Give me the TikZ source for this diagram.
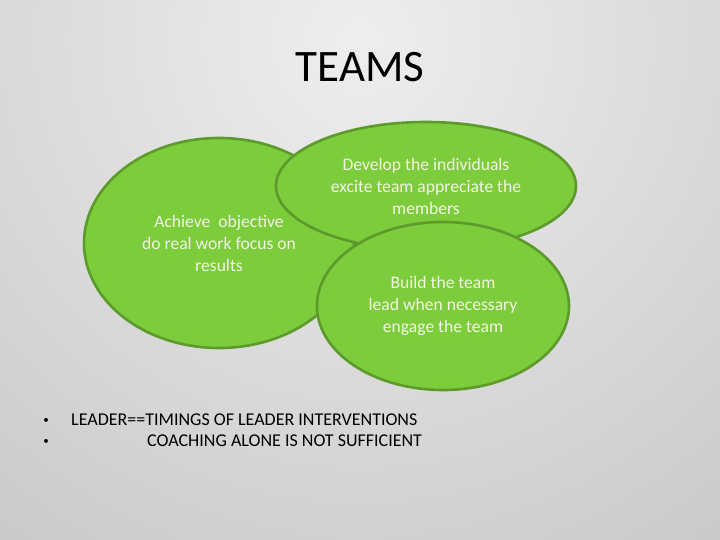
\documentclass[tikz,border=0pt]{standalone}
\usepackage{fontspec}
\setmainfont{Carlito}
\usetikzlibrary{shapes.geometric}
\definecolor{bgin}{HTML}{EEEEEE}
\definecolor{bgout}{HTML}{B0B0B0}
\definecolor{leaf}{HTML}{7DCC3B}
\definecolor{leafedge}{HTML}{5C9A2C}
\definecolor{cream}{HTML}{F3F3E4}
\tikzset{
  blob/.style={ellipse, draw=leafedge, line width=2.6pt, fill=leaf, inner sep=0pt,
    text=cream, font=\fontsize{17.6}{22}\selectfont, align=center},
  bullettxt/.style={anchor=west, inner sep=0pt, font=\fontsize{18}{20}\selectfont, text=black},
  bulletdot/.style={inner sep=0pt, font=\fontsize{11}{12}\selectfont, text=black},
}
\begin{document}
\begin{tikzpicture}[x=1pt,y=-1pt]
\useasboundingbox (0,0) rectangle (720,540);
\begin{scope}
\clip (0,0) rectangle (720,540);
\shade[inner color=bgin, outer color=bgout] (360,40) circle (1050);
\end{scope}
\node[font=\fontsize{45}{50}\selectfont, text=black] (title) at (360,67) {TEAMS};
\node[blob, minimum width=270pt, minimum height=210pt] (achieve) at (219,243)
  {Achieve\ \ objective\\do real work focus on\\results};
\node[blob, minimum width=300pt, minimum height=128pt] (develop) at (426,186)
  {Develop the individuals\\excite team appreciate the\\members};
\node[blob, minimum width=252pt, minimum height=168pt] (build) at (443,306)
  {Build the team\\lead when necessary\\engage the team};
\node[bulletdot] (b1) at (46,421) {\textbullet};
\node[bulletdot] (b2) at (46,442) {\textbullet};
\node[bullettxt] (l1) at (71,420) {LEADER==TIMINGS OF LEADER INTERVENTIONS};
\node[bullettxt] (l2) at (147,441) {COACHING ALONE IS NOT SUFFICIENT};
\end{tikzpicture}
\end{document}
